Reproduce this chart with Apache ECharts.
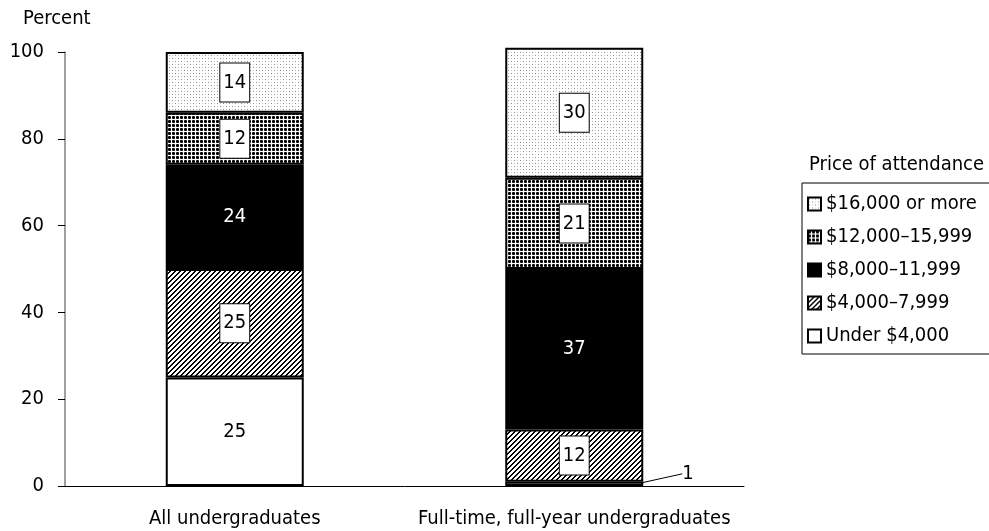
<!DOCTYPE html>
<html><head><meta charset="utf-8">
<script src="https://cdn.jsdelivr.net/npm/echarts@6/dist/echarts.min.js"></script>
<style>html,body{margin:0;padding:0;background:#fff}#c{width:989px;height:531px}</style>
</head><body><div id="c"></div>
<script>
var categories = ['All undergraduates', 'Full-time, full-year undergraduates'];
var seriesNames = ['Under $4,000', '$4,000\u20137,999', '$8,000\u201311,999', '$12,000\u201315,999', '$16,000 or more'];
var under4000 = [25, 1];
var from4000 = [25, 12];
var from8000 = [24, 37];
var from12000 = [12, 21];
var over16000 = [14, 30];
var yTicks = [0, 20, 40, 60, 80, 100];

var FONT = 'DejaVu Sans Condensed';
var FS = 20;

function tile(size, fn) {
  var c = document.createElement('canvas');
  c.width = size; c.height = size;
  var ctx = c.getContext('2d');
  ctx.fillStyle = '#fff'; ctx.fillRect(0, 0, size, size);
  fn(ctx);
  return c;
}
var lightDots = tile(6, function (ctx) {
  ctx.fillStyle = '#8a8a8a';
  ctx.fillRect(1, 1, 1, 1);
  ctx.fillRect(4, 4, 1, 1);
  ctx.fillStyle = '#c8c8c8';
  ctx.fillRect(4, 1, 1, 1);
  ctx.fillRect(1, 4, 1, 1);
});
var denseDots = tile(4, function (ctx) {
  ctx.fillStyle = '#000';
  ctx.fillRect(0, 1, 3, 1);
  ctx.fillRect(1, 0, 1, 3);
  ctx.fillStyle = '#444';
  ctx.fillRect(0, 0, 1, 1); ctx.fillRect(2, 0, 1, 1);
  ctx.fillRect(0, 2, 1, 1); ctx.fillRect(2, 2, 1, 1);
});
var stripes = tile(5, function (ctx) {
  ctx.fillStyle = '#000';
  for (var y = 0; y < 5; y++) for (var x = 0; x < 5; x++) {
    if ((x + y) % 5 < 2) ctx.fillRect(x, y, 1, 1);
  }
});

var boxLabel = {
  show: true, position: 'inside', color: '#000', fontFamily: FONT, fontSize: FS,
  backgroundColor: '#fff', borderColor: '#000', borderWidth: 1,
  padding: [8, 3, 8, 3], lineHeight: 22
};
var seriesData = [under4000, from4000, from8000, from12000, over16000];
var fills = ['#fff', {image: stripes, repeat: 'repeat'}, '#000', {image: denseDots, repeat: 'repeat'}, {image: lightDots, repeat: 'repeat'}];

var series = seriesData.map(function (vals, i) {
  var s = {
    name: seriesNames[i], type: 'bar', stack: 'total', barWidth: 138, clip: false,
    itemStyle: {color: fills[i], borderColor: '#000', borderWidth: 2},
    emphasis: {disabled: true},
    data: vals.slice()
  };
  if (i === 0) {
    s.label = {show: true, position: 'inside', color: '#000', fontFamily: FONT, fontSize: FS};
    s.data = [vals[0], {
      value: vals[1],
      label: {show: true, position: 'right', distance: 5},
      labelLine: {show: true, lineStyle: {color: '#000', width: 1}}
    }];
    s.labelLayout = function (p) {
      if (p.dataIndex === 1) return {dx: 34, dy: -10};
      return {};
    };
    s.labelLine = {show: false};
  } else if (i === 2) {
    s.label = {show: true, position: 'inside', color: '#fff', fontFamily: FONT, fontSize: FS};
  } else {
    s.label = boxLabel;
  }
  return s;
});

var chart = echarts.init(document.getElementById('c'), null, {renderer: 'canvas'});
chart.setOption({
  animation: false,
  backgroundColor: '#fff',
  textStyle: {fontFamily: FONT},
  title: [
    {text: 'Percent', left: 23, top: 9, padding: 0, textStyle: {fontFamily: FONT, fontSize: FS, fontWeight: 'normal', color: '#000'}},
    {text: 'Price of attendance', left: 809, top: 155, padding: 0, textStyle: {fontFamily: FONT, fontSize: FS, fontWeight: 'normal', color: '#000'}}
  ],
  legend: {
    orient: 'vertical', left: 802, top: 183,
    data: seriesNames.slice().reverse(),
    icon: 'rect', itemWidth: 13, itemHeight: 13, itemGap: 13, itemTextGap: 4,
    padding: [11, 60, 8, 5],
    borderColor: '#000', borderWidth: 1,
    textStyle: {fontFamily: FONT, fontSize: FS, color: '#000', lineHeight: 20},
    selectedMode: false
  },
  grid: {left: 65, right: 245, top: 52, bottom: 45},
  xAxis: {
    type: 'category', data: categories,
    axisLine: {lineStyle: {color: '#000', width: 1}},
    axisTick: {show: false},
    axisLabel: {color: '#000', fontFamily: FONT, fontSize: FS, margin: 23, interval: 0, hideOverlap: false}
  },
  yAxis: {
    type: 'value', min: yTicks[0], max: yTicks[yTicks.length - 1], interval: 20,
    axisLine: {show: true, lineStyle: {color: '#808080', width: 1.5}},
    axisTick: {show: true, inside: false, length: 7, lineStyle: {color: '#000'}},
    splitLine: {show: false},
    axisLabel: {color: '#000', fontFamily: FONT, fontSize: FS, margin: 21}
  },
  series: series
});
</script></body></html>
